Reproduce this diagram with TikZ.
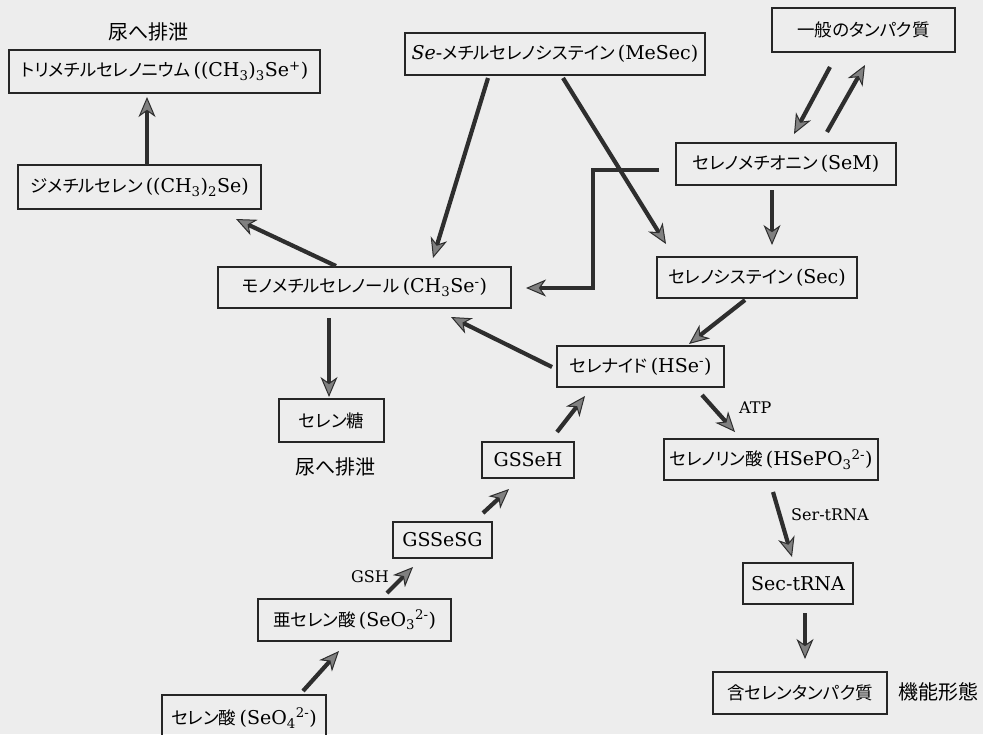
\documentclass[tikz,border=0pt]{standalone}
\usepackage{fontspec}
\setmainfont{DejaVu Serif}
\newfontfamily\jpfont[RawFeature=+palt]{Noto Sans CJK JP}
\newfontfamily\jplabel{Noto Sans CJK JP}
\usetikzlibrary{arrows.meta}
\newcommand\J[1]{{\fontsize{17.5}{20}\jpfont #1}}
\newcommand\SubSup[2]{\textsubscript{#1}\textsuperscript{#2}}
\tikzset{
  bx/.style={draw=black!85, line width=1.3pt, inner sep=0pt, font=\fontsize{19}{22}\selectfont},
  arr/.style={line width=4.2pt, draw=black!82, line join=miter,
    -{Stealth[length=20pt,width=17pt,inset=6pt,line width=1pt,fill=black!50]}},
  lbl/.style={font=\fontsize{20}{24}\jplabel, inner sep=0pt},
  smalllbl/.style={font=\fontsize{16}{19}\selectfont, inner sep=0pt}
}
\begin{document}
\begin{tikzpicture}[x=1pt,y=-1pt]
\useasboundingbox (0,0) rectangle (983,734);
\fill[black!7] (0,0) rectangle (983,734);

% boxes
\node[bx, minimum width=311pt, minimum height=43pt] (trimeth) at (164.5,71.5)
  {\J{トリメチルセレノニウム}\,((CH\textsubscript{3})\textsubscript{3}Se\textsuperscript{+})};
\node[lbl] (urine1) at (148,32) {尿へ排泄};
\node[bx, minimum width=300pt, minimum height=42pt] (mesec) at (555,54)
  {\textit{Se}-\J{メチルセレノシステイン}\,(MeSec)};
\node[bx, minimum width=183pt, minimum height=44pt] (tanpaku) at (863.5,30)
  {\J{一般のタンパク質}};
\node[bx, minimum width=243pt, minimum height=44pt] (dimeth) at (139.5,187)
  {\J{ジメチルセレン}\,((CH\textsubscript{3})\textsubscript{2}Se)};
\node[bx, minimum width=220pt, minimum height=42pt] (sem) at (786,164)
  {\J{セレノメチオニン}\,(SeM)};
\node[bx, minimum width=200pt, minimum height=41pt] (sec) at (757,277.5)
  {\J{セレノシステイン}\,(Sec)};
\node[bx, minimum width=293pt, minimum height=41pt] (monometh) at (364.5,287.5)
  {\J{モノメチルセレノール}\,(CH\textsubscript{3}Se\textsuperscript{-})};
\node[bx, minimum width=105pt, minimum height=43pt] (sugar) at (331.5,420.5)
  {\J{セレン糖}};
\node[lbl] (urine2) at (335,467) {尿へ排泄};
\node[bx, minimum width=167pt, minimum height=41pt] (selenide) at (640.5,366.5)
  {\J{セレナイド}\,(HSe\textsuperscript{-})};
\node[bx, minimum width=92pt, minimum height=36pt] (gsseh) at (528,460) {GSSeH};
\node[bx, minimum width=214pt, minimum height=41pt] (selphos) at (771,459.5)
  {\J{セレノリン酸}\,(HSePO\SubSup{3}{2-})};
\node[bx, minimum width=110pt, minimum height=41pt] (sectrna) at (798,583.5) {Sec-tRNA};
\node[bx, minimum width=174pt, minimum height=42pt] (hanseleno) at (800,693)
  {\J{含セレンタンパク質}};
\node[lbl] (kinou) at (938,692) {機能形態};
\node[bx, minimum width=99pt, minimum height=36pt] (gssesg) at (442.5,540) {GSSeSG};
\node[bx, minimum width=193pt, minimum height=42pt] (aselen) at (354.5,620)
  {\J{亜セレン酸}\,(SeO\SubSup{3}{2-})};
\node[bx, minimum width=164pt, minimum height=46pt] (selenate) at (244,718)
  {\J{セレン酸}\,(SeO\SubSup{4}{2-})};

% connector end points
\coordinate (a1s) at (147,165);   \coordinate (a1e) at (147,97);
\coordinate (a2s) at (336,266);   \coordinate (a2e) at (236,219);
\coordinate (a3s) at (488,78);    \coordinate (a3e) at (433,258);
\coordinate (a4s) at (563,78);    \coordinate (a4e) at (666,244);
\coordinate (a5s) at (830,67);    \coordinate (a5e) at (794,134);
\coordinate (a6s) at (827,132);   \coordinate (a6e) at (865,65);
\coordinate (a7s) at (772,190);   \coordinate (a7e) at (772,245);
\coordinate (e1) at (659,170);    \coordinate (e2) at (593,170);
\coordinate (e3) at (593,288);    \coordinate (e4) at (526,288);
\coordinate (a9s) at (745,300);   \coordinate (a9e) at (689,344);
\coordinate (a10s) at (552,367);  \coordinate (a10e) at (451,317);
\coordinate (a11s) at (329,318);  \coordinate (a11e) at (329,397);
\coordinate (a12s) at (557,432);  \coordinate (a12e) at (585,396);
\coordinate (a13s) at (483,513);  \coordinate (a13e) at (509,489);
\coordinate (a14s) at (387,593);  \coordinate (a14e) at (413,567);
\coordinate (a15s) at (303,691);  \coordinate (a15e) at (339,651);
\coordinate (a16s) at (702,395);  \coordinate (a16e) at (735,432);
\coordinate (a17s) at (773,492);  \coordinate (a17e) at (792,557);
\coordinate (a18s) at (805,613);  \coordinate (a18e) at (805,659);

% connectors
\draw[arr] (a1s) -- (a1e);
\draw[arr] (a2s) -- (a2e);
\draw[arr] (a3s) -- (a3e);
\draw[arr] (e1) -- (e2) -- (e3) -- (e4);
\draw[arr] (a4s) -- (a4e);
\draw[arr] (a5s) -- (a5e);
\draw[arr] (a6s) -- (a6e);
\draw[arr] (a7s) -- (a7e);
\draw[arr] (a9s) -- (a9e);
\draw[arr] (a10s) -- (a10e);
\draw[arr] (a11s) -- (a11e);
\draw[arr] (a12s) -- (a12e);
\draw[arr] (a13s) -- (a13e);
\draw[arr] (a14s) -- (a14e);
\draw[arr] (a15s) -- (a15e);
\draw[arr] (a16s) -- (a16e);
\draw[arr] (a17s) -- (a17e);
\draw[arr] (a18s) -- (a18e);

% connector labels
\node[smalllbl, anchor=east] (gsh) at (389,577) {GSH};
\node[smalllbl, anchor=west] (atp) at (739,408) {ATP};
\node[smalllbl, anchor=west] (sertrna) at (791,515) {Ser-tRNA};
\end{tikzpicture}
\end{document}
